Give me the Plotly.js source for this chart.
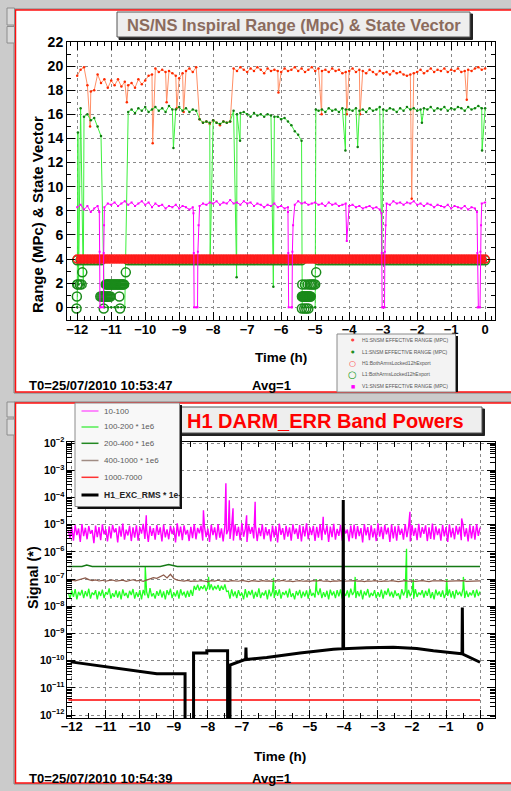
<!DOCTYPE html>
<html><head><meta charset="utf-8">
<script src="https://cdn.plot.ly/plotly-3.0.1.min.js"></script>
<style>html,body{margin:0;padding:0;background:#cbcbcb;overflow:hidden}#chart{width:511px;height:791px}</style>
</head><body><div id="chart"></div><script>
// ---------------- TOP PANEL DATA (hours relative to T0, Mpc / state) ----------------
const topClockStart = -12.0, topClockStep = 0.1, topClockN = 121;
const h1Range = [19.2,19.7,19.9,18.4,17.9,18.0,19.3,18.6,18.9,18.2,
 18.8,18.4,18.9,18.3,18.7,18.4,18.6,18.2,18.9,18.5,
 18.8,19.2,19.3,19.8,19.5,19.7,19.5,19.6,19.4,19.2,
 19.0,19.4,19.6,19.8,19.5,19.9,15.6,15.3,15.4,15.2,
 15.5,15.3,15.1,15.4,15.3,15.4,19.8,19.6,19.9,19.7,
 19.5,19.8,19.6,19.9,19.7,19.4,19.8,19.6,19.7,19.6,
 19.5,19.8,19.6,19.7,19.9,19.6,19.8,19.5,19.7,19.9,
 19.6,19.8,19.6,19.7,19.5,19.8,19.6,19.7,19.4,19.5,
 19.6,19.8,19.5,19.7,19.6,19.4,19.7,19.5,19.3,19.6,
 19.4,19.5,19.3,19.6,19.4,19.5,19.3,19.2,19.3,19.4,
 19.5,19.7,19.4,19.6,19.8,19.5,19.7,19.6,19.8,19.5,
 19.7,19.6,19.8,19.5,19.6,19.7,19.6,19.8,19.9,19.7,
 19.8];
const h1DipT = [-11.62,-10.54,-9.78,-9.37,-9.07,-8.87,-6.08,-4.81,-4.07,-3.68,-2.16,-0.54];
const h1DipV = [15.0,17.0,13.6,17.0,16.5,16.2,17.8,16.0,16.0,16.0,9.0,17.2];

const l1Range = [0,16.5,15.8,16.0,15.5,15.7,15.0,14.2,0,0,
 0,0,0,0,0,16.2,16.4,16.1,16.5,16.3,
 16.6,16.2,16.4,16.6,16.3,16.5,16.2,16.7,16.4,16.4,
 16.6,16.3,16.5,16.2,16.4,16.3,15.6,15.3,15.4,15.3,
 15.5,15.3,15.2,15.4,15.3,15.4,16.3,16.0,16.1,16.2,
 16.0,15.8,16.1,15.9,16.0,15.8,16.0,15.9,15.8,15.8,
 15.6,15.7,15.4,15.1,14.6,14.3,13.8,0,0,0,
 0,16.3,16.4,16.2,16.5,16.3,16.4,16.2,16.5,16.4,
 16.4,16.3,16.5,16.3,16.4,16.2,16.5,16.3,16.4,16.6,
 16.4,16.3,16.5,16.4,16.2,16.5,16.3,16.6,16.4,16.5,
 16.3,16.4,16.5,16.4,16.6,16.3,16.5,16.4,16.6,16.3,
 16.5,16.4,16.6,16.5,16.3,16.6,16.4,16.5,16.7,16.5,
 16.5];
const l1DipT = [-11.98,-11.96,-11.82,-9.17,-8.09,-7.31,-7.21,-6.23,-5.38,-4.98,-4.11,-3.75,-3.04,-1.86,-0.09];
const l1DipV = [14.5,1.9,1.9,13.2,4.0,2.5,13.8,1.7,0,16.4,13.0,13.3,4.2,15.3,13.0];

const v1Range = [8.3,8.5,8.1,8.4,7.9,8.2,8.4,0,8.3,8.6,
 8.5,8.7,8.4,8.6,8.8,8.5,8.7,8.4,8.6,8.8,
 8.5,8.7,8.3,8.6,8.4,8.5,8.2,8.4,8.3,8.5,
 8.2,8.4,8.3,8.1,8.3,0,8.4,8.6,8.5,8.7,
 8.6,8.8,8.5,8.7,8.6,8.9,8.6,8.7,8.5,8.8,
 8.6,8.7,8.4,8.6,8.5,8.3,8.5,8.4,8.6,8.3,
 8.4,8.2,8.3,0,8.5,8.8,8.6,8.7,8.5,8.6,
 8.7,8.5,8.6,8.4,8.7,8.5,8.6,8.4,8.5,8.6,
 8.4,8.5,8.3,8.4,8.2,8.3,8.4,8.2,8.3,8.1,
 0,8.6,8.5,8.8,8.6,8.7,8.5,8.7,8.6,8.8,
 8.5,8.6,8.4,8.6,8.5,8.3,8.5,8.4,8.3,8.5,
 8.2,8.4,8.3,8.2,8.4,8.1,8.3,8.2,0,8.6,
 8.7];
const v1DropT = [-11.35,-11.34,-11.33,-11.23,-11.22,-11.21,
 -8.58,-8.57,-8.56,-8.46,-8.45,-8.43,
 -5.80,-5.79,-5.78,-5.68,-5.67,-5.65,
 -3.05,-3.04,-3.03,-2.96,-2.95,-2.93,
 -0.24,-0.23,-0.22,-0.15,-0.14,-0.12,
 -4.07];
const v1DropV = [7.9,4.6,0,0,4.5,6.8, 7.8,4.5,0,0,4.6,6.8, 7.9,4.5,0,0,4.6,6.8, 7.8,4.5,0,0,4.6,6.8, 7.9,4.5,0,0,4.6,6.8, 5.5];

const h1State = [4,4,4,4,4,4,4,4,4,4, 4,4,4,4,4,4,4,4,4,4, 4,4,4,4,4,4,4,4,4,4, 4,4,4,4,4,4,4,4,4,4,
 4,4,4,4,4,4,4,4,4,4, 4,4,4,4,4,4,4,4,4,4, 4,4,4,4,4,4,4,4,4,4, 4,4,4,4,4,4,4,4,4,4,
 4,4,4,4,4,4,4,4,4,4, 4,4,4,4,4,4,4,4,4,4, 4,4,4,4,4,4,4,4,4,4, 4,4,4,4,4,4,4,4,4,4, 4];
const l1State = [3.9,3.9,3.9,3.9,3.9,3.9,3.9,3.9,null,null,
 null,null,null,null,null,3.9,3.9,3.9,3.9,3.9,
 3.9,3.9,3.9,3.9,3.9,3.9,3.9,3.9,3.9,3.9, 3.9,3.9,3.9,3.9,3.9,3.9,3.9,3.9,3.9,3.9,
 3.9,3.9,3.9,3.9,3.9,3.9,3.9,3.9,3.9,3.9, 3.9,3.9,3.9,3.9,3.9,3.9,3.9,3.9,3.9,3.9,
 3.9,3.9,3.9,3.9,3.9,3.9,3.9,null,null,null,
 null,3.9,3.9,3.9,3.9,3.9,3.9,3.9,3.9,3.9,
 3.9,3.9,3.9,3.9,3.9,3.9,3.9,3.9,3.9,3.9, 3.9,3.9,3.9,3.9,3.9,3.9,3.9,3.9,3.9,3.9,
 3.9,3.9,3.9,3.9,3.9,3.9,3.9,3.9,3.9,3.9, 3.9,3.9,3.9,3.9,3.9,3.9,3.9,3.9,3.9,3.9, 3.9];
const l1StateLossT = [-12.02,-12.01,-12.0,-11.98,-11.92,-11.87,-11.85,
 -11.32,-11.29,-11.26,-11.23,-11.2,-11.17,-11.14,-11.11,-11.08,-11.05,-11.02,
 -11.22,
 -11.16,-11.13,-11.10,-11.07,-11.04,-11.01,-10.98,-10.95,-10.92,-10.89,-10.86,-10.83,-10.80,-10.77,-10.74,-10.71,-10.68,-10.65,-10.62,
 -10.76,-10.74,-10.57,
 -5.39,-5.37,-5.35,-5.33,-5.31,-5.29,-5.27,-5.25,-5.23,-5.21,-5.19,-5.17,-5.15,-5.13,
 -5.39,-5.32,-5.26,-5.20,
 -5.38,-5.30,-5.22,-5.16,-5.12,-5.08,-5.04,-5.00,
 -4.97];
const l1StateLossV = [-0.1,0.9,1.9,1.9,1.9,1.9,2.9,
 0.9,0.9,0.9,0.9,0.9,0.9,0.9,0.9,0.9,0.9,0.9,
 -0.1,
 1.9,1.9,1.9,1.9,1.9,1.9,1.9,1.9,1.9,1.9,1.9,1.9,1.9,1.9,1.9,1.9,1.9,1.9,1.9,
 0.9,-0.1,2.9,
 0.9,0.9,0.9,0.9,0.9,0.9,0.9,0.9,0.9,0.9,0.9,0.9,0.9,0.9,
 -0.1,-0.1,-0.1,-0.1,
 1.9,1.9,1.9,1.9,1.9,1.9,1.9,1.9,
 2.9];

// ---------------- BOTTOM PANEL DATA ----------------
const botClockStart = -12.1, botClockStep = 0.05, botClockN = 243;
// 10-100 Hz band, units of 1e-6
const band10_100 = [6.1,3.2,8.4,2.6,9.7,4.1,7.2,2.3,10.5,3.8,
 7.7,2.9,8.9,4.6,6.3,2.1,9.3,3.5,8.1,2.7,
 10.2,4.4,6.8,2.4,8.6,3.1,9.9,5.2,7.4,2.2,
 8.7,3.6,11.0,2.8,6.6,4.0,9.1,2.5,7.9,3.3,
 9.5,2.6,8.2,4.7,10.8,3.0,6.9,2.3,8.8,3.9,
 7.5,2.8,9.6,4.2,8.0,2.4,10.1,3.4,6.7,2.9,
 9.0,4.5,7.8,2.2,11.2,3.7,8.5,2.7,9.4,4.3,
 6.4,2.5,8.3,3.2,10.4,2.9,7.6,4.8,9.2,2.6,
 8.6,3.5,7.1,2.3,9.8,4.1,8.0,2.8,10.6,3.3,
 7.3,2.4,9.0,4.4,6.5,3.0,8.9,2.6,10.0,3.9,
 8.4,2.7,11.4,3.6,7.0,2.3,9.5,4.6,8.2,3.1,
 9.7,2.5,7.7,3.8,10.3,2.9,8.1,4.0,6.8,2.4,
 9.3,3.4,8.6,2.2,10.9,4.2,7.4,2.8,9.0,3.6,
 8.0,2.6,10.2,4.5,7.2,3.0,9.6,2.4,8.7,3.7,
 11.1,2.9,7.9,4.1,9.1,2.5,8.3,3.3,10.5,2.7,
 7.6,4.3,9.4,2.3,8.5,3.5,10.7,2.8,7.0,3.9,
 9.8,2.6,8.2,4.7,6.6,2.4,9.3,3.2,10.1,2.9,
 8.8,3.8,7.5,2.2,10.4,4.0,8.1,2.7,9.5,3.4,
 7.3,2.5,11.3,3.6,8.4,2.9,9.9,4.4,7.8,2.3,
 10.0,3.1,8.7,2.6,9.2,4.2,7.1,2.8,10.6,3.5,
 8.3,2.4,9.7,3.9,7.6,2.7,10.8,3.3,8.0,4.6,
 9.4,2.5,7.9,3.0,11.0,2.8,8.6,4.1,7.2,2.6,
 9.9,3.7,8.2,2.3,10.3,3.4,7.7,2.9,9.1,4.3,
 8.5,2.7,10.1,3.6,7.4,2.4,9.6,3.1,8.8,2.8,
 10.4,3.9,7.8];
const band10_100SpikeT = [-9.81,-8.13,-7.47,-7.37,-7.26,-6.86,-6.61,-4.61,-2.06,-0.54];
const band10_100SpikeV = [22,34,330,79,40,22,69,19.5,30,17];
// 100-200 Hz band * 1e6, units of 1e-8
const band100_200 = [3.1,1.9,3.8,2.2,4.3,1.8,3.4,2.5,4.0,2.0,
 3.6,2.3,4.4,1.9,3.2,2.6,3.9,1.8,3.5,2.4,
 4.1,2.0,3.3,2.7,4.5,1.9,3.0,2.2,3.8,2.1,
 3.5,1.8,4.2,2.4,3.1,2.0,3.7,2.6,4.3,1.9,
 3.3,2.2,3.9,1.8,4.0,2.5,3.4,2.0,4.6,2.3,
 3.0,1.9,3.6,2.4,4.1,2.1,3.5,1.8,3.9,2.6,
 4.4,2.0,3.2,2.3,3.8,1.9,4.2,2.5,3.4,2.1,
 3.7,2.2,4.0,2.4,5.6,4.0,6.2,3.8,5.4,4.3,
 6.0,3.6,5.8,4.1,6.4,3.9,5.5,4.2,6.1,3.7,
 5.7,4.0,6.3,3.5,3.6,1.9,4.2,2.3,3.5,2.0,
 3.9,2.4,3.1,1.8,4.3,2.1,3.6,2.6,4.0,1.9,
 3.4,2.2,4.5,2.0,3.2,2.5,3.8,1.8,4.1,2.3,
 3.5,2.0,3.9,2.4,4.2,1.9,3.3,2.6,3.7,2.1,
 4.4,2.2,3.0,1.8,3.6,2.5,4.0,2.0,3.4,2.3,
 3.8,1.9,4.3,2.4,3.1,2.1,3.9,2.6,4.5,2.0,
 3.3,2.2,3.7,1.8,4.1,2.5,3.5,2.0,3.9,2.3,
 4.2,1.9,3.2,2.4,3.8,2.1,4.4,2.6,3.4,2.0,
 3.6,2.3,4.0,1.8,3.5,2.5,4.3,2.1,3.1,2.4,
 3.9,2.0,3.3,2.2,4.1,1.9,3.7,2.6,4.5,2.3,
 3.4,2.1,3.8,2.4,3.0,1.8,4.2,2.5,3.6,2.0,
 4.0,2.3,3.5,1.9,4.3,2.2,3.2,2.6,3.9,2.1,
 3.7,2.4,4.4,2.0,3.3,1.8,4.1,2.5,3.5,2.2,
 3.8,2.0,3.1,2.4,4.2,2.1,3.6,1.9,4.0,2.6,
 3.4,2.3,4.5,2.0,3.7,2.2,3.2,2.5,3.9,2.1,
 4.1,2.4,3.5];
const band100_200SpikeT = [-9.84,-7.98,-6.07,-4.81,-3.67,-2.16,-1.96,-0.98,-0.49];
const band100_200SpikeV = [29,12,11,10,12,130,10,10,12];
// 400-1000 Hz band * 1e6, units of 1e-8, sampled every 0.1 h
const band400_1000Step = 0.1, band400_1000N = 122;
const band400_1000 = [8.2,9.1,8.6,9.4,10.2,11.0,9.5,8.8,9.3,8.5,
 9.0,8.3,8.9,9.2,8.4,8.7,9.1,8.2,8.8,9.4,
 8.6,9.0,8.3,9.2,10.0,11.2,10.6,11.8,14.0,11.0,
 15.0,10.5,9.1,8.7,8.4,8.9,8.2,8.6,8.3,8.8,
 8.5,8.1,8.7,8.4,9.0,8.3,8.6,8.2,8.8,8.5,
 8.3,8.9,8.4,8.1,8.7,8.5,8.2,8.8,8.4,8.6,
 8.2,8.7,8.4,8.9,8.3,8.6,8.1,8.5,8.8,8.3,
 8.6,8.2,8.7,8.4,8.9,8.3,8.5,8.1,8.6,8.4,
 8.8,8.3,8.5,8.2,8.7,8.4,8.6,8.1,8.5,8.3,
 8.7,8.4,8.2,8.6,8.3,8.8,8.5,8.1,8.4,8.7,
 8.3,8.6,8.2,8.5,8.8,8.4,8.1,8.6,8.3,8.5,
 8.7,8.2,8.4,8.6,8.3,8.5,8.8,8.2,8.4,8.6,
 8.3,8.5];
// 200-400 Hz band * 1e6, units of 1e-8
const band200_400T = [-12.1,-11.7,-11.56,-11.4,-10.5,-9.4,-9.15,-8.9,-8.0,-6.0,-4.0,-2.0,0.0];
const band200_400V = [29,29,33,29.2,28.9,29.1,34,29,28.8,29,29.1,28.9,29];
// 1000-7000 Hz band
const band1000_7000T = [-12.1,-8.0,-4.0,0.0];
const band1000_7000V = [3.6e-12,3.6e-12,3.6e-12,3.6e-12];
// H1_EXC_RMS
const excRmsT = [-12.03,-9.5,-8.67,-8.67,-8.42,-8.42,-8.03,-8.03,-7.42,-7.42,-7.35,-7.35,-6.91,-6.89,-6.88,-6.87,-6.27,-5.29,-4.31,-4.03,-4.02,-4.01,-3.33,-2.55,-1.86,-1.37,-0.54,-0.53,-0.52,-0.51,0.0];
const excRmsV = [9e-11,3.3e-11,3.3e-11,1e-13,1e-13,1.9e-10,1.9e-10,2.3e-10,2.3e-10,1e-13,1e-13,6.9e-11,1.1e-10,1.1e-10,3e-10,1.1e-10,1.3e-10,1.9e-10,2.6e-10,2.75e-10,8e-5,2.75e-10,3e-10,3.1e-10,2.8e-10,2.3e-10,1.8e-10,1.8e-10,9e-9,1.75e-10,8.7e-11];

const topLegendLabels = ['H1:SNSM EFFECTIVE RANGE (MPC)','L1:SNSM EFFECTIVE RANGE (MPC)','H1:BothArmsLocked12hExport','L1:BothArmsLocked12hExport','V1:SNSM EFFECTIVE RANGE (MPC)'];
const botLegendLabels = ['10-100','100-200 * 1e6','200-400 * 1e6','400-1000 * 1e6','1000-7000','H1_EXC_RMS * 1e-'];

// ---------------- helpers ----------------
function clock(t0, dt, n){ const t=[]; for(let i=0;i<n;i++) t.push(Math.round((t0+i*dt)*1000)/1000); return t; }
function merge(t1, v1, t2, v2, scale){
  const pts=[]; const s=scale||1;
  t1.forEach((t,i)=>{ if(v1[i]!==null) pts.push([t,v1[i]]); });
  if(t2) t2.forEach((t,i)=>pts.push([t,v2[i]]));
  pts.sort((a,b)=>a[0]-b[0]);
  return {x:pts.map(p=>p[0]), y:pts.map(p=>p[1]*s)};
}
const PX = x => x/511, PY = y => 1 - y/791;

const tTop = clock(topClockStart, topClockStep, topClockN);
const tBot = clock(botClockStart, botClockStep, botClockN);
const tBrown = clock(botClockStart, band400_1000Step, band400_1000N);

const h1 = merge(tTop, h1Range, h1DipT, h1DipV);
const l1 = merge(tTop, l1Range, l1DipT, l1DipV);
const v1 = merge(tTop, v1Range, v1DropT, v1DropV);
const l1s = merge(tTop, l1State, l1StateLossT, l1StateLossV);
const h1s = merge(tTop, h1State);
const b1 = merge(tBot, band10_100, band10_100SpikeT, band10_100SpikeV, 1e-6);
const b2 = merge(tBot, band100_200, band100_200SpikeT, band100_200SpikeV, 1e-8);
const b3 = merge(band200_400T, band200_400V, null, null, 1e-8);
const b4 = merge(tBrown, band400_1000, null, null, 1e-8);

const traces = [
  {x:h1.x, y:h1.y, mode:'lines+markers', line:{color:'#ff8f66', width:1}, marker:{color:'#ff2a00', size:2.5}, xaxis:'x', yaxis:'y'},
  {x:l1.x, y:l1.y, mode:'lines+markers', line:{color:'#3cf03c', width:1}, marker:{color:'#127a12', size:2.5}, xaxis:'x', yaxis:'y'},
  {x:l1s.x, y:l1s.y, mode:'markers', marker:{symbol:'circle-open', size:9, color:'#1a8a1a', line:{width:1.5}}, xaxis:'x', yaxis:'y'},
  {x:h1s.x, y:h1s.y, mode:'lines+markers', line:{color:'#ff2020', width:7}, marker:{symbol:'circle-open', size:8, color:'#ff1a1a', line:{width:1.5}}, xaxis:'x', yaxis:'y'},
  {x:v1.x, y:v1.y, mode:'lines+markers', line:{color:'#ff00ff', width:1}, marker:{symbol:'square', size:2, color:'#ff00ff'}, xaxis:'x', yaxis:'y'},
  {x:b1.x, y:b1.y, mode:'lines', line:{color:'#ff00ff', width:1.4}, xaxis:'x2', yaxis:'y2'},
  {x:b2.x, y:b2.y, mode:'lines', line:{color:'#22ff22', width:1.3}, xaxis:'x2', yaxis:'y2'},
  {x:b3.x, y:b3.y, mode:'lines', line:{color:'#157a15', width:1.5}, xaxis:'x2', yaxis:'y2'},
  {x:b4.x, y:b4.y, mode:'lines', line:{color:'#8c5a4a', width:1.2}, xaxis:'x2', yaxis:'y2'},
  {x:band1000_7000T, y:band1000_7000V, mode:'lines', line:{color:'#ff0000', width:1.5}, xaxis:'x2', yaxis:'y2'},
  {x:excRmsT, y:excRmsV, mode:'lines', line:{color:'#000000', width:3}, xaxis:'x2', yaxis:'y2'}
];

const tickFontX = {family:'Liberation Sans, Arial, sans-serif', size:13, color:'#000', weight:'bold'};
const tickFontY = {family:'Liberation Sans, Arial, sans-serif', size:14, color:'#000', weight:'bold'};
const common = {showline:true, linecolor:'#000', linewidth:1, mirror:'allticks', ticks:'inside', ticklen:8, tickcolor:'#000',
  showgrid:true, gridcolor:'#8a8a8a', griddash:'dot', gridwidth:1, zeroline:false, fixedrange:true};

const shapes = [];
const rect = (x0,y0,x1,y1,fill,line,lw,layer)=>shapes.push({type:'rect', xref:'paper', yref:'paper', x0:PX(x0), x1:PX(x1), y0:PY(y1), y1:PY(y0), fillcolor:fill, line:{color:line||fill, width:lw===undefined?1:lw}, layer:layer||'above'});
const hline = (x0,x1,y,color,w)=>shapes.push({type:'line', xref:'paper', yref:'paper', x0:PX(x0), x1:PX(x1), y0:PY(y), y1:PY(y), line:{color:color, width:w}, layer:'above'});

// panels
rect(14,9,530,393,'rgba(0,0,0,0)','#808080',1,'below');
rect(15.5,10,530,392,'#ffffff','#ff1010',1.5,'below');
rect(14,402,530,784,'rgba(0,0,0,0)','#808080',1,'below');
rect(15.5,403,530,783,'#ffffff','#ff1010',1.5,'below');
// side buttons
[[8,25],[26.5,43],[402,417],[419,435]].forEach(b=>rect(7,b[0],14.5,b[1],'#dadada','#8c8c8c',1,'below'));
// title boxes
rect(119,14,472.5,39.5,'#222222','#222222',1);
rect(117,12,470,37,'#eeeeee','#555555',1);
rect(170,409,484.5,435.5,'#222222','#222222',1);
rect(168,407,482,433,'#eeeeee','#555555',1);
// top legend box
rect(339.5,336,458,392,'#111111','#111111',0);
rect(337,334,455.5,392,'#f3f3f3','#8a8a8a',1);
// bottom legend box
rect(77.5,405,182,509,'#111111','#111111',0);
rect(75,403,179.5,506.5,'#f8f8f8','#8a8a8a',1);
const botSw = ['#ff66ff','#55ee55','#228822','#a08c84','#ff3333','#000000'];
const botY = [411,427,443.3,460.5,477.3,495];
botSw.forEach((c,i)=>hline(81.5,98.5,botY[i],c,i===5?3:1.5));

const ann = [];
const A = (text,x,y,size,color,opts)=>ann.push(Object.assign({text:text, x:PX(x), y:PY(y), xref:'paper', yref:'paper', showarrow:false,
  font:{family:'Liberation Sans, Arial, sans-serif', size:size, color:color}, xanchor:'center', yanchor:'middle'}, opts||{}));
A('<b>NS/NS Inspiral Range (Mpc) &amp; State Vector</b>',293.5,24.5,16.5,'#8b6b5d');
A('<b>H1 DARM_ERR Band Powers</b>',325,420.5,20,'#ff0000');
A('<b>Range (MPc) &amp; State Vector</b>',37,215,15,'#000',{textangle:-90});
A('<b>Signal (*)</b>',33,578,14.5,'#000',{textangle:-90});
A('<b>Time (h)</b>',281,357,13.5,'#000');
A('<b>Time (h)</b>',280,756,13.5,'#000');
A('<b>T0=25/07/2010 10:53:47</b>',27,385,13,'#000',{xanchor:'left'});
A('<b>Avg=1</b>',250,385,13,'#000',{xanchor:'left'});
A('<b>T0=25/07/2010 10:54:39</b>',27,778,13,'#000',{xanchor:'left'});
A('<b>Avg=1</b>',250,778,13,'#000',{xanchor:'left'});
// top legend entries
const topSym = [['●',4,'#ff4040'],['●',4,'#1f8f1f'],['○',8,'#ff3030'],['○',10,'#1a9a1a'],['■',4.5,'#ff00ff']];
const topY = [339.5,351.5,363,374.5,386];
topLegendLabels.forEach((t,i)=>{
  ann.push({text:topSym[i][0], x:PX(352.7), y:PY(topY[i]), xref:'paper', yref:'paper', showarrow:false, xanchor:'center', yanchor:'middle', borderpad:0,
    font:{family:'DejaVu Sans', size:topSym[i][1], color:topSym[i][2]}});
  A(t,361,topY[i],5,'#555555',{xanchor:'left', borderpad:0});
});
botLegendLabels.forEach((t,i)=>A(i===5?'<b>'+t+'</b>':t,102,botY[i],i===5?8.5:8,i===5?'#222':'#5a5a5a',{xanchor:'left'}));

const layout = {
  width:511, height:791, margin:{l:0,r:0,t:0,b:0}, paper_bgcolor:'#cbcbcb', plot_bgcolor:'#ffffff', showlegend:false,
  xaxis: Object.assign({}, common, {domain:[PX(67),PX(495)], anchor:'y', range:[-12.3,0.29], dtick:1, tick0:0, tickfont:tickFontX, ticklabelstandoff:-3,
    minor:{dtick:0.2, ticklen:4, tickcolor:'#000', ticks:'inside', showgrid:false}}),
  yaxis: Object.assign({}, common, {domain:[PY(320),PY(41.7)], anchor:'x', range:[-1.05,22.02], dtick:2, tick0:0, tickfont:tickFontY,
    minor:{dtick:1, ticklen:4, tickcolor:'#000', ticks:'inside', showgrid:false}}),
  xaxis2: Object.assign({}, common, {domain:[PX(67),PX(495)], anchor:'y2', range:[-12.14,0.44], dtick:1, tick0:0, tickfont:tickFontX, ticklabelstandoff:-4,
    minor:{dtick:0.5, ticklen:5, tickcolor:'#000', ticks:'inside', showgrid:false}}),
  yaxis2: Object.assign({}, common, {domain:[PY(718),PY(442)], anchor:'x2', type:'log', range:[-12.11,-1.96], dtick:1, exponentformat:'power',
    tickfont:{family:'Liberation Sans, Arial, sans-serif', size:8.5, color:'#000', weight:'bold'},
    minor:{dtick:'D1', ticklen:5, tickcolor:'#000', ticks:'inside', showgrid:false}}),
  shapes:shapes, annotations:ann
};
Plotly.newPlot('chart', traces, layout, {staticPlot:true, displayModeBar:false});
</script></body></html>
